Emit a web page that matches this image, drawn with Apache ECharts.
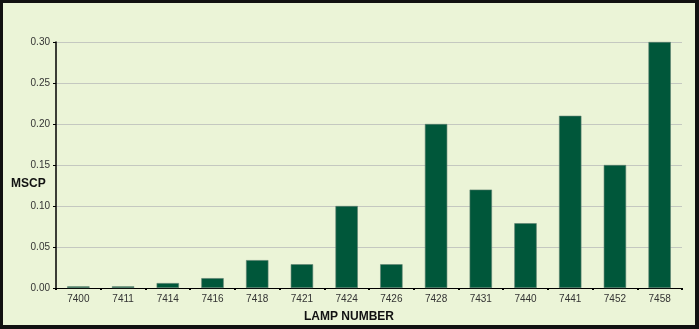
<!DOCTYPE html>
<html>
<head>
<meta charset="utf-8">
<script src="https://cdn.jsdelivr.net/npm/echarts@6/dist/echarts.min.js"></script>
<style>
html,body{margin:0;padding:0;background:#111;}
#wrap{position:absolute;left:0;top:0;width:699px;height:329px;background:#111;}
#chart{position:absolute;left:3px;top:3px;width:692px;height:322px;background:#ebf4d7;}
</style>
</head>
<body>
<div id="wrap"><div id="chart"></div></div>
<script>
const categories = ['7400','7411','7414','7416','7418','7421','7424','7426','7428','7431','7440','7441','7452','7458'];
const mscp = [0.002,0.002,0.006,0.012,0.034,0.029,0.100,0.029,0.200,0.120,0.079,0.210,0.150,0.300];
const yTicks = [0, 0.05, 0.10, 0.15, 0.20, 0.25, 0.30];

const chart = echarts.init(document.getElementById('chart'), null, {renderer:'canvas'});
const font = 'Liberation Sans, Arial, sans-serif';
chart.setOption({
  animation: false,
  backgroundColor: '#ebf4d7',
  grid: {left: 53, right: 13, top: 39, bottom: 37},
  xAxis: {
    type: 'category',
    data: categories,
    axisLine: {lineStyle: {color: '#000', width: 1}},
    axisTick: {show: true, length: 2, lineStyle: {color: '#000', width: 2}},
    axisLabel: {color: '#333', fontSize: 10, fontFamily: font, margin: 6},
    splitLine: {show: false}
  },
  yAxis: {
    type: 'value',
    min: yTicks[0],
    max: yTicks[yTicks.length - 1],
    interval: 0.05,
    axisLine: {show: true, lineStyle: {color: '#000', width: 1.5}},
    axisTick: {show: true, length: 3, lineStyle: {color: '#000', width: 1}},
    axisLabel: {color: '#333', fontSize: 10, fontFamily: font, margin: 6,
      formatter: v => v.toFixed(2)},
    splitLine: {show: true, lineStyle: {color: '#c4c8c0', width: 1}}
  },
  series: [{
    type: 'bar',
    data: mscp,
    barWidth: '50%',
    itemStyle: {color: '#00573a', borderColor: '#5e7f70', borderWidth: 0.6}
  }],
  graphic: [
    {type: 'text', left: 8, top: 175, style: {text: 'MSCP', font: 'bold 12px ' + font, fill: '#111'}},
    {type: 'text', left: 'center', top: 308, style: {text: 'LAMP NUMBER', font: 'bold 12px ' + font, fill: '#111'}}
  ]
});
</script>
</body>
</html>
